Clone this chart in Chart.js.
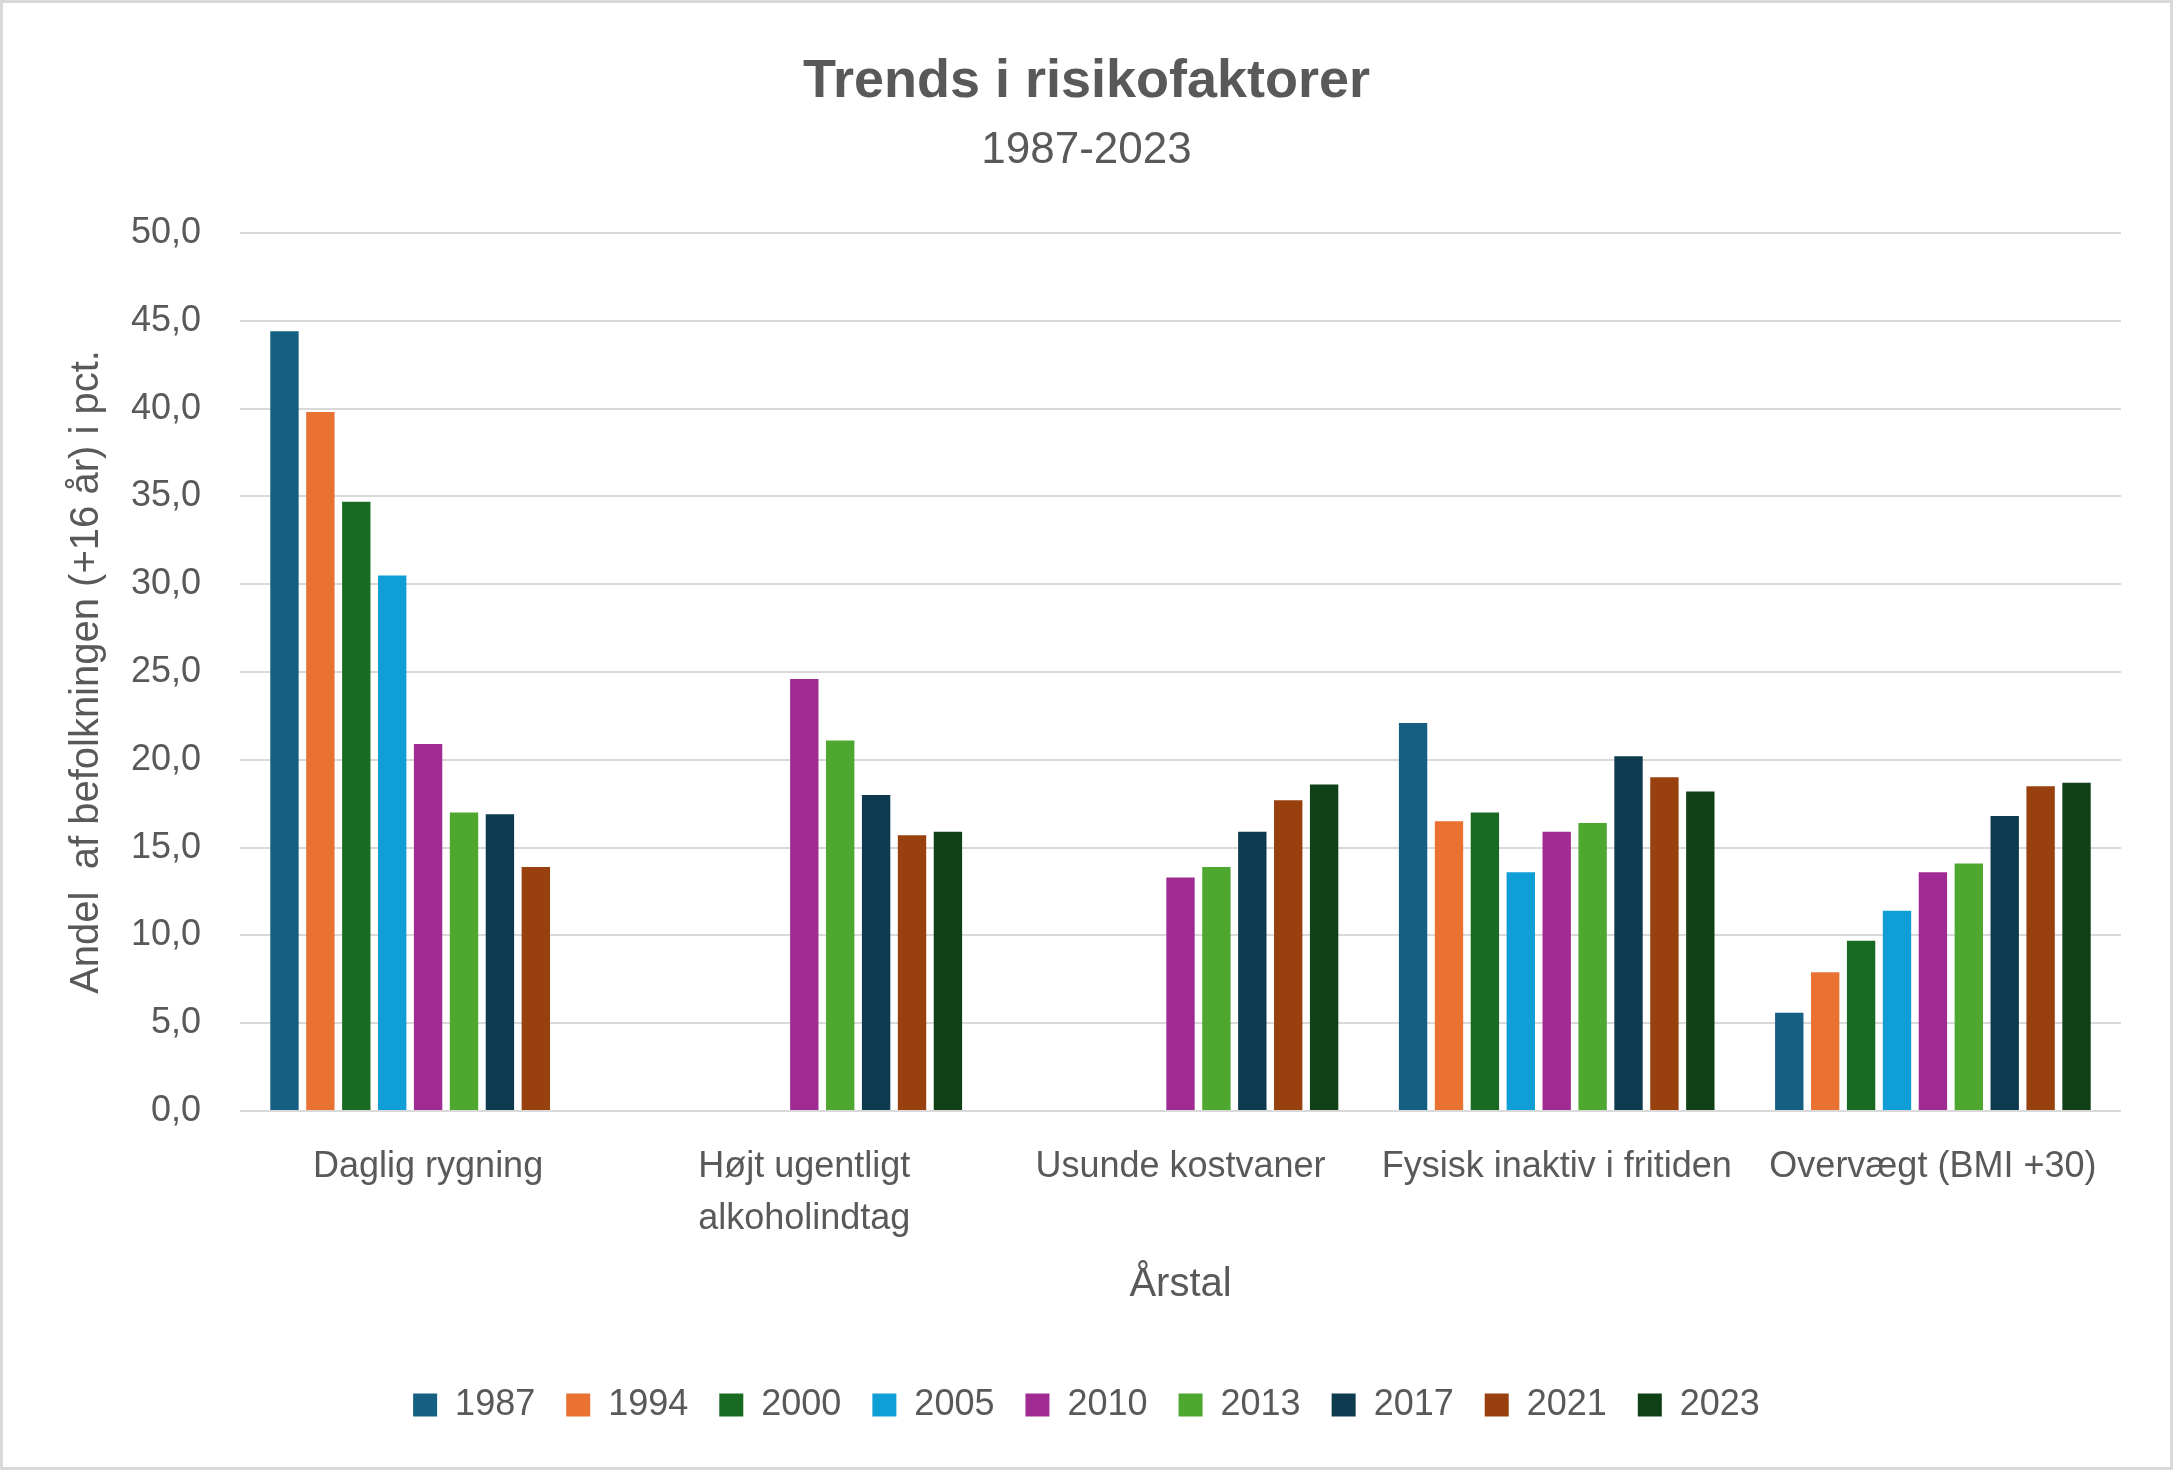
<!DOCTYPE html>
<html>
<head>
<meta charset="utf-8">
<script src="https://cdn.jsdelivr.net/npm/chart.js@4.4.1/dist/chart.umd.min.js"></script>
<style>
  html, body { margin: 0; padding: 0; background: #ffffff; }
  canvas { display: block; }
</style>
</head>
<body>
<canvas id="c" width="2173" height="1470"></canvas>
<script>
// ---- Data ----
const categories = [
  "Daglig rygning",
  ["Højt ugentligt", "alkoholindtag"],
  "Usunde kostvaner",
  "Fysisk inaktiv i fritiden",
  "Overvægt (BMI +30)"
];
const years = ["1987", "1994", "2000", "2005", "2010", "2013", "2017", "2021", "2023"];
const v1987 = [44.4, null, null, 22.1, 5.6];
const v1994 = [39.8, null, null, 16.5, 7.9];
const v2000 = [34.7, null, null, 17.0, 9.7];
const v2005 = [30.5, null, null, 13.6, 11.4];
const v2010 = [20.9, 24.6, 13.3, 15.9, 13.6];
const v2013 = [17.0, 21.1, 13.9, 16.4, 14.1];
const v2017 = [16.9, 18.0, 15.9, 20.2, 16.8];
const v2021 = [13.9, 15.7, 17.7, 19.0, 18.5];
const v2023 = [null, 15.9, 18.6, 18.2, 18.7];
const seriesValues = [v1987, v1994, v2000, v2005, v2010, v2013, v2017, v2021, v2023];
const seriesColors = ["#156082", "#E97132", "#196B24", "#0F9ED5", "#A02B93", "#4EA72E", "#0D3A4E", "#99400F", "#0F4016"];

const titleText = "Trends i risikofaktorer";
const subtitleText = "1987-2023";
const yAxisTitle = "Andel  af befolkningen (+16 år) i pct.";
const xAxisTitle = "Årstal";

// ---- Styling ----
const FONT = "'Liberation Sans', Arial, sans-serif";
const TEXT = "#595959";
const GRID = "#D9D9D9";

const frame = {
  id: 'frame',
  beforeDraw(chart) {
    const ctx = chart.ctx;
    ctx.save();
    ctx.fillStyle = '#ffffff';
    ctx.fillRect(0, 0, chart.width, chart.height);
    ctx.restore();
  },
  afterDraw(chart) {
    const ctx = chart.ctx;
    ctx.save();
    ctx.strokeStyle = GRID;
    ctx.lineWidth = 3;
    ctx.strokeRect(1.5, 1.5, chart.width - 3, chart.height - 3);
    ctx.restore();
  }
};

new Chart(document.getElementById('c'), {
  type: 'bar',
  data: {
    labels: categories,
    datasets: years.map((y, i) => ({
      label: y,
      data: seriesValues[i],
      backgroundColor: seriesColors[i],
      borderWidth: 0,
      yAxisID: 'y',
      categoryPercentage: 0.859,
      barPercentage: 0.79
    }))
  },
  options: {
    responsive: false,
    devicePixelRatio: 1,
    animation: false,
    layout: { padding: { top: 0, left: 0, right: 0, bottom: 37 } },
    plugins: {
      title: {
        display: true,
        text: titleText,
        color: TEXT,
        font: { family: FONT, size: 54, weight: 'bold', lineHeight: 1.2 },
        padding: { top: 50, bottom: 9.8 }
      },
      subtitle: {
        display: true,
        text: subtitleText,
        color: TEXT,
        font: { family: FONT, size: 44, weight: 'normal', lineHeight: 1.2 },
        padding: { top: 0, bottom: 55.6 }
      },
      legend: {
        display: true,
        position: 'bottom',
        labels: {
          color: TEXT,
          font: { family: FONT, size: 36 },
          boxWidth: 24,
          boxHeight: 23,
          padding: 31
        }
      },
      tooltip: { enabled: false }
    },
    scales: {
      x: {
        grid: { display: false, drawTicks: false },
        border: { display: false },
        ticks: {
          color: TEXT,
          padding: 30,
          maxRotation: 0,
          autoSkip: false,
          font: { family: FONT, size: 36, lineHeight: 1.444 }
        },
        title: {
          display: true,
          text: xAxisTitle,
          color: TEXT,
          font: { family: FONT, size: 40, lineHeight: 1.2 },
          padding: { top: 0, bottom: 47.5 }
        },
        afterFit(scale) { scale.height = 245; }
      },
      y: {
        position: 'left',
        min: 0,
        max: 50,
        grid: { color: GRID, lineWidth: 2, drawTicks: false },
        border: { display: false },
        ticks: {
          stepSize: 5,
          color: TEXT,
          padding: 39,
          font: { family: FONT, size: 36 },
          callback: (v) => Number(v).toFixed(1).replace('.', ',')
        },
        title: {
          display: true,
          text: yAxisTitle,
          color: TEXT,
          font: { family: FONT, size: 40, lineHeight: 1.2 },
          padding: { top: 63, bottom: 0 }
        },
        afterFit(scale) { scale.width = 240; }
      },
      yRight: {
        type: 'linear',
        position: 'right',
        display: true,
        min: 0,
        max: 50,
        grid: { display: false, drawTicks: false },
        border: { display: false },
        ticks: { display: false },
        title: { display: false },
        afterFit(scale) { scale.width = 52; }
      }
    }
  },
  plugins: [frame]
});
</script>
</body>
</html>
